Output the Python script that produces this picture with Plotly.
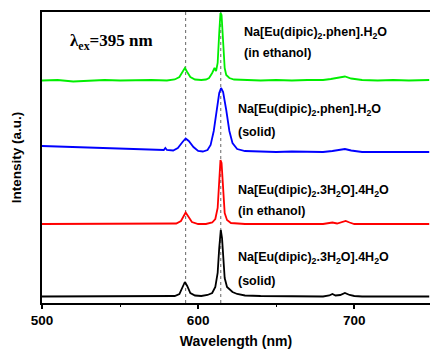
import plotly.graph_objects as go

# Emission spectra (wavelength nm, intensity a.u. incl. vertical offset)
green_wl = [500, 510, 520, 530, 540, 550, 560, 570, 580, 585, 588, 590, 591.5, 593, 595, 598, 602, 605, 607, 609,
            610.5, 611.5, 612.5, 613.5, 614.3, 615, 616, 617, 618, 620, 623, 630, 640, 650, 660, 670, 680, 685,
            690, 694, 698, 705, 715, 725, 735, 748]
green_int = [222.5, 223, 221.5, 222, 223, 222.5, 223, 223, 222.5, 223.5, 226, 231, 235, 231, 226, 223.5, 223, 223.5,
             225, 230, 235, 232, 240, 270, 290, 288, 255, 235, 228, 225, 223.5, 223, 222.5, 223, 222.5, 223, 223,
             224, 225.5, 226.5, 224.5, 223, 222.5, 223, 222.5, 223]

blue_wl = [500, 510, 520, 530, 540, 550, 560, 570, 578, 579, 580, 584, 587, 590, 592, 594, 597, 600, 603, 606, 608,
           610, 612, 613.5, 614.7, 616, 618, 620, 622, 625, 630, 640, 650, 660, 670, 680, 686, 690, 694, 698, 705,
           720, 735, 748]
blue_int = [157, 156.5, 156, 155.5, 155, 154.5, 154, 153.5, 153, 155, 153, 152.5, 155, 161, 164.5, 162, 156, 152,
            151.5, 153, 158, 172, 195, 210, 215, 211, 193, 172, 160, 154, 152, 151.5, 151, 151.5, 151, 151, 152,
            153, 154, 152.5, 151, 151, 151, 151]

red_wl = [500, 520, 540, 560, 580, 586, 589, 591, 592, 593.5, 596, 600, 605, 609, 611, 612.5, 613.5, 614.3, 615,
          616, 617, 618.5, 621, 630, 650, 680, 684, 686, 689, 691, 694.5, 697, 700, 720, 748]
red_int = [79, 79, 79, 79, 79, 79.5, 82, 88, 90.5, 87, 81, 79, 79, 80.5, 84, 95, 120, 143, 140, 110, 90, 83, 80,
           79, 79, 79, 80, 80.5, 79.5, 80.5, 82, 80.5, 79, 79, 79]

black_wl = [500, 520, 540, 560, 580, 585, 588, 590, 591.5, 593, 595, 598, 602, 606, 609, 611, 612.5, 613.5, 614.5,
            615.3, 616, 617, 618.5, 620, 622, 625, 630, 640, 680, 684, 686, 688, 691, 694, 697, 700, 705, 748]
black_int = [6.5, 6.5, 6.5, 6.5, 6.5, 7, 9, 15, 21, 17, 10, 7.5, 7, 8, 10, 16, 30, 55, 73, 65, 45, 25, 16, 14, 11,
             9, 7.5, 7, 6.5, 7.5, 9, 7.5, 8, 10, 8, 7, 6.5, 6.5]

ref_lines = [592, 614.5]

series = [
    (green_wl, green_int, "#00ee00"),
    (blue_wl, blue_int, "#0000ff"),
    (red_wl, red_int, "#ff0000"),
    (black_wl, black_int, "#000000"),
]

fig = go.Figure()
for wl, inten, col in series:
    fig.add_trace(go.Scatter(x=wl, y=inten, mode="lines", line=dict(color=col, width=1.8), showlegend=False))

for xv in ref_lines:
    fig.add_shape(type="line", xref="x", yref="paper", x0=xv, x1=xv, y0=0, y1=1,
                  line=dict(color="#666666", width=1, dash="dot"), layer="below")

font_lbl = dict(family="Liberation Sans, Arial", size=12.5, color="black")
labels = [
    ("<b>Na[Eu(dipic)<sub>2</sub>.phen].H<sub>2</sub>O</b>", 628, 270),
    ("<b>(in ethanol)</b>", 628, 250),
    ("<b>Na[Eu(dipic)<sub>2</sub>.phen].H<sub>2</sub>O</b>", 624.5, 193),
    ("<b>(solid)</b>", 624.5, 171.5),
    ("<b>Na[Eu(dipic)<sub>2</sub>.3H<sub>2</sub>O].4H<sub>2</sub>O</b>", 624.5, 112.5),
    ("<b>(in ethanol)</b>", 624.5, 92),
    ("<b>Na[Eu(dipic)<sub>2</sub>.3H<sub>2</sub>O].4H<sub>2</sub>O</b>", 624.5, 45),
    ("<b>(solid)</b>", 624.5, 22),
]
for txt, xv, yv in labels:
    fig.add_annotation(x=xv, y=yv, text=txt, showarrow=False, xanchor="left", yanchor="middle", font=font_lbl)

fig.add_annotation(x=516.5, y=261, text="<b>λ<sub>ex</sub>=395 nm</b>", showarrow=False, xanchor="left",
                   yanchor="middle", font=dict(family="Liberation Serif, Times New Roman", size=17, color="black"))

fig.update_layout(
    width=430, height=349,
    margin=dict(l=42, r=0, t=12, b=46),
    paper_bgcolor="white", plot_bgcolor="white",
    xaxis=dict(range=[500, 748.5], tickmode="linear", tick0=500, dtick=100,
               ticks="outside", ticklen=4, tickwidth=1.5, tickcolor="black", automargin=False,
               minor=dict(dtick=50, ticks="outside", ticklen=2, tickwidth=1.2, tickcolor="black", showgrid=False),
               showline=True, linecolor="black", linewidth=1.5, mirror=True, showgrid=False, zeroline=False,
               tickfont=dict(family="Liberation Sans, Arial", size=13.5, color="black", weight="bold"),
               title=dict(text="<b>Wavelength (nm)</b>", standoff=10,
                          font=dict(family="Liberation Sans, Arial", size=14, color="black"))),
    yaxis=dict(range=[0, 291], showticklabels=False, ticks="", showline=True, linecolor="black", linewidth=1.5,
               showgrid=False, zeroline=False, automargin=False,
               title=dict(text="<b>Intensity (a.u.)</b>", standoff=16,
                          font=dict(family="Liberation Sans, Arial", size=13.5, color="black"))),
)

fig.write_html("out.html", config={"displayModeBar": False},
               post_script="document.body.style.margin='0';")
